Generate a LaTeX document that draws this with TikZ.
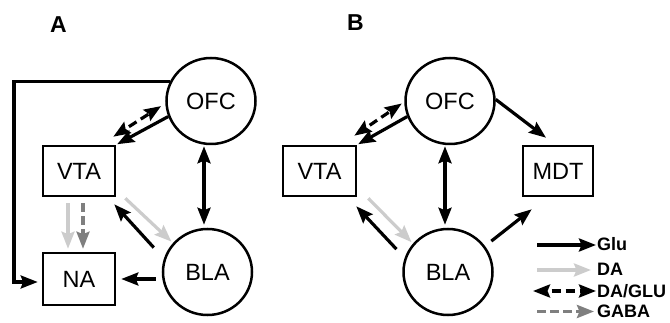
\documentclass[tikz,border=0pt]{standalone}
\usepackage{fontspec}
\setmainfont{Liberation Sans}
\usetikzlibrary{arrows.meta,shapes.geometric,calc}
\definecolor{dalight}{HTML}{CCCCCC}
\definecolor{gabagray}{HTML}{7F7F7F}
\begin{document}
\begin{tikzpicture}[x=1pt,y=-1pt,
  >={Stealth[length=17pt,width=13pt,inset=2.5pt]},
  every node/.style={inner sep=0pt},
  roi/.style={ellipse, draw, line width=2.5pt, minimum width=89pt, minimum height=86pt, font=\fontsize{23.5}{23.5}\selectfont},
  box/.style={rectangle, draw, line width=2.6pt, minimum width=72pt, minimum height=50pt, font=\fontsize{23.5}{23.5}\selectfont},
  glu/.style={line width=3.2pt, ->},
  da/.style={line width=3.2pt, ->, draw=dalight},
  dg/.style={line width=3.2pt, <->, dash pattern=on 9pt off 5pt, dash phase=9pt},
  gaba/.style={line width=3.2pt, ->, draw=gabagray, dash pattern=on 9pt off 4pt},
  panel/.style={font=\bfseries\fontsize{23}{23}\selectfont},
  key/.style={font=\bfseries\fontsize{18}{18}\selectfont, anchor=west}
]
\useasboundingbox (0,0) rectangle (670,323);

% panel labels
\node[panel] (labA) at (58.5,24.5) {A};
\node[panel] (labB) at (355.5,23) {B};

% panel A nodes
\node[roi] (ofcA) at (211,101) {OFC};
\node[roi] (blaA) at (207.5,272) {BLA};
\node[box] (vtaA) at (79,171) {VTA};
\node[box, minimum height=52pt] (naA) at (79,279) {NA};

% panel B nodes
\node[roi] (ofcB) at (450,101) {OFC};
\node[roi] (blaB) at (448,272) {BLA};
\node[box, minimum width=73pt] (vtaB) at (319.5,171) {VTA};
\node[box, minimum width=70pt] (mdtB) at (558,171) {MDT};

% panel A connectors
\coordinate (railA) at (14,0);
\draw[glu, shorten >=4pt] (ofcA.155) -- (ofcA.155 -| railA) |- ([shift={(0,3)}]naA.west);
\draw[glu, shorten >=1pt] (ofcA.200) -- (vtaA.north east);
\draw[dg, shorten >=5pt] ([shift={(-3,-8)}]vtaA.north east) -- (ofcA.183);
\draw[da, shorten <=6pt, shorten >=3pt] ([shift={(-11,0)}]vtaA.south) -- ([shift={(-11,0)}]naA.north);
\draw[gaba, shorten <=6pt, shorten >=3pt] ([shift={(4,0)}]vtaA.south) -- ([shift={(4,0)}]naA.north);
\draw[glu, shorten <=15pt] (blaA.163) -- ([shift={(-2,7)}]vtaA.south east);
\draw[da, shorten >=2pt] ([shift={(9,1)}]vtaA.south east) -- (blaA.140);
\draw[glu, shorten <=6pt, shorten >=5pt] (naA.east -| blaA.west) -- (naA.east);
\draw[glu, <->, shorten <=1pt, shorten >=3pt] ([shift={(-7,0)}]ofcA.south) -- ([shift={(-3.5,0)}]blaA.north);

% panel B connectors
\draw[glu, shorten >=1pt] (ofcB.200) -- (vtaB.north east);
\draw[dg, shorten >=3pt] ([shift={(-3,-9)}]vtaB.north east) -- (ofcB.181);
\draw[glu] (ofcB.2) -- ([shift={(-12,-7)}]mdtB.north);
\draw[glu, shorten <=8pt] (blaB.35) -- ([shift={(10,12)}]mdtB.south west);
\draw[glu, shorten <=12pt] (blaB.162) -- ([shift={(-1,9)}]vtaB.south east);
\draw[da, shorten >=2pt] ([shift={(11,1)}]vtaB.south east) -- (blaB.141);
\draw[glu, <->, shorten <=1pt, shorten >=3pt] ([shift={(-5,0)}]ofcB.south) -- ([shift={(-3,0)}]blaB.north);

% legend
\node[key] (kGlu) at (597,244.5) {Glu};
\node[key] (kDA) at (597,269) {DA};
\node[key] (kDG) at (597,291) {DA/GLU};
\node[key] (kGABA) at (597,311.5) {GABA};
\coordinate (sGlu) at (537,245);
\coordinate (sDA) at (537,270);
\coordinate (sDG) at (533,291);
\coordinate (sGABA) at (537,311.5);
\draw[glu, shorten >=1pt] (sGlu) -- (sGlu -| kGlu.west);
\draw[da, shorten >=6pt] (sDA) -- (sDA -| kDA.west);
\draw[dg, shorten >=1pt] (sDG) -- (sDG -| kDG.west);
\draw[gaba, dash phase=0pt, shorten >=3pt] (sGABA) -- (sGABA -| kGABA.west);
\end{tikzpicture}
\end{document}
